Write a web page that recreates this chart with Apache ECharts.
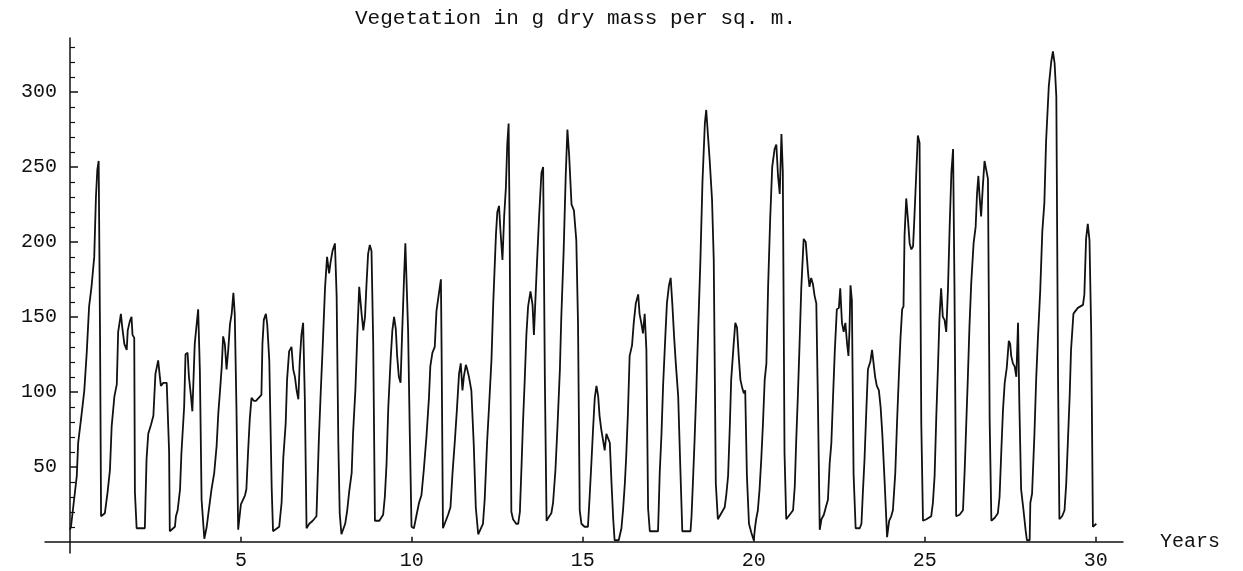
<!DOCTYPE html>
<html>
<head>
<meta charset="utf-8">
<script src="https://cdn.jsdelivr.net/npm/echarts@6/dist/echarts.min.js"></script>
<style>
  html, body { margin: 0; background: #fff; }
  #chart { width: 1243px; height: 571px; }
</style>
</head>
<body>
<div id="chart"></div>
<script>
// [year, grams dry mass per sq. m.], one row per season
const years0to5 = [
  [0.0, 8], [0.03, 10], [0.1, 24], [0.2, 44], [0.24, 66], [0.34, 85], [0.42, 101], [0.49, 126], [0.56, 157], [0.63, 170], [0.71, 190], [0.76, 230], [0.8, 248], [0.84, 254], [0.88, 137], [0.91, 17],
  [1.02, 19], [1.1, 33], [1.17, 48], [1.22, 77], [1.3, 97], [1.37, 105], [1.41, 140], [1.49, 152], [1.53, 143], [1.59, 132], [1.66, 128], [1.69, 141], [1.75, 147], [1.8, 150], [1.83, 138], [1.88, 136], [1.9, 33], [1.95, 9],
  [2.19, 9], [2.21, 28], [2.24, 55], [2.29, 72], [2.37, 78], [2.44, 84], [2.5, 112], [2.58, 121], [2.63, 110], [2.66, 104], [2.73, 106], [2.83, 106], [2.9, 60], [2.92, 7],
  [3.07, 10], [3.1, 17], [3.15, 21], [3.22, 35], [3.26, 59], [3.34, 90], [3.38, 125], [3.44, 126], [3.48, 110], [3.54, 97], [3.58, 87], [3.61, 106], [3.65, 132], [3.71, 146], [3.75, 155], [3.8, 114], [3.85, 28], [3.93, 2],
  [4.0, 10], [4.06, 21], [4.14, 35], [4.22, 46], [4.29, 64], [4.34, 86], [4.39, 101], [4.44, 117], [4.48, 137], [4.53, 132], [4.58, 115], [4.63, 128], [4.68, 145], [4.73, 152], [4.78, 166], [4.82, 152], [4.87, 89], [4.92, 8]
];
const years5to10 = [
  [4.97, 9], [5.0, 25], [5.06, 28], [5.12, 31], [5.16, 35], [5.21, 60], [5.26, 82], [5.31, 96], [5.38, 94], [5.44, 94], [5.52, 96], [5.6, 98], [5.63, 132], [5.67, 148], [5.73, 152], [5.77, 145], [5.83, 121], [5.9, 36], [5.94, 7],
  [6.12, 10], [6.19, 26], [6.24, 56], [6.31, 79], [6.35, 108], [6.41, 127], [6.48, 130], [6.53, 115], [6.58, 110], [6.63, 101], [6.68, 95], [6.72, 120], [6.77, 138], [6.82, 146], [6.87, 95], [6.92, 9],
  [7.0, 12], [7.1, 14], [7.21, 17], [7.24, 39], [7.28, 68], [7.33, 97], [7.39, 129], [7.46, 169], [7.52, 190], [7.58, 179], [7.62, 186], [7.68, 194], [7.75, 199], [7.8, 164], [7.85, 65], [7.89, 19], [7.94, 5],
  [8.05, 12], [8.11, 21], [8.17, 34], [8.24, 46], [8.28, 72], [8.35, 102], [8.4, 135], [8.46, 170], [8.53, 152], [8.58, 141], [8.63, 150], [8.67, 170], [8.72, 192], [8.77, 198], [8.82, 194], [8.87, 132], [8.92, 14],
  [9.05, 14], [9.16, 18], [9.21, 30], [9.26, 52], [9.31, 89], [9.38, 122], [9.43, 141], [9.48, 150], [9.53, 142], [9.57, 124], [9.62, 110], [9.67, 106], [9.71, 135], [9.77, 175], [9.81, 199], [9.86, 200], [9.89, 141], [9.94, 72], [9.99, 10]
];
const years10to15 = [
  [10.06, 9], [10.13, 17], [10.21, 26], [10.28, 31], [10.35, 48], [10.43, 71], [10.5, 96], [10.54, 117], [10.6, 126], [10.67, 130], [10.72, 154], [10.8, 167], [10.85, 175], [10.87, 127], [10.91, 9],
  [11.01, 15], [11.06, 18], [11.13, 23], [11.19, 46], [11.26, 68], [11.32, 89], [11.38, 112], [11.43, 119], [11.48, 101], [11.52, 110], [11.58, 118], [11.62, 115], [11.67, 110], [11.74, 101], [11.81, 65], [11.87, 23], [11.94, 5],
  [12.08, 12], [12.13, 28], [12.2, 66], [12.26, 91], [12.33, 122], [12.38, 159], [12.46, 205], [12.5, 220], [12.55, 224], [12.59, 208], [12.65, 188], [12.7, 217], [12.75, 236], [12.79, 265], [12.83, 279], [12.86, 211], [12.91, 20], [12.96, 15],
  [13.05, 12], [13.11, 12], [13.16, 20], [13.21, 52], [13.25, 79], [13.3, 107], [13.35, 138], [13.4, 157], [13.47, 167], [13.53, 158], [13.57, 138], [13.62, 137], [13.66, 186], [13.72, 216], [13.79, 246], [13.84, 250], [13.89, 109], [13.94, 14],
  [14.02, 17], [14.08, 19], [14.13, 26], [14.2, 48], [14.26, 77], [14.33, 115], [14.37, 149], [14.44, 194], [14.5, 244], [14.55, 275], [14.6, 258], [14.67, 225], [14.74, 221], [14.81, 201], [14.86, 146], [14.91, 21], [14.96, 12]
];
const years15to20 = [
  [15.05, 10], [15.15, 10], [15.2, 30], [15.25, 52], [15.3, 75], [15.35, 96], [15.4, 104], [15.45, 97], [15.49, 84], [15.54, 75], [15.59, 68], [15.64, 61], [15.69, 72], [15.74, 69], [15.79, 66], [15.84, 39], [15.89, 15], [15.93, 1],
  [16.05, 1], [16.13, 9], [16.18, 22], [16.23, 39], [16.27, 57], [16.32, 86], [16.37, 124], [16.44, 131], [16.49, 146], [16.55, 159], [16.62, 165], [16.66, 152], [16.71, 146], [16.76, 139], [16.81, 152], [16.86, 128], [16.91, 22], [16.96, 7],
  [17.2, 7], [17.22, 22], [17.25, 46], [17.3, 71], [17.35, 105], [17.42, 140], [17.46, 159], [17.52, 171], [17.57, 176], [17.62, 158], [17.67, 137], [17.72, 119], [17.79, 97], [17.85, 51], [17.91, 7],
  [18.15, 7], [18.18, 17], [18.22, 39], [18.27, 68], [18.32, 101], [18.37, 138], [18.44, 188], [18.5, 240], [18.57, 279], [18.61, 288], [18.66, 289], [18.71, 255], [18.78, 228], [18.83, 188], [18.89, 39], [18.95, 15],
  [19.05, 19], [19.15, 23], [19.2, 32], [19.25, 44], [19.3, 77], [19.34, 108], [19.41, 131], [19.46, 146], [19.51, 143], [19.56, 124], [19.61, 108], [19.67, 102], [19.71, 99], [19.75, 101], [19.8, 44], [19.86, 12], [19.93, 6], [20.0, 1]
];
const years20to25 = [
  [20.04, 10], [20.07, 15], [20.12, 21], [20.17, 35], [20.22, 55], [20.27, 79], [20.32, 108], [20.37, 119], [20.42, 170], [20.48, 215], [20.54, 250], [20.61, 262], [20.66, 265], [20.71, 244], [20.76, 232], [20.81, 272], [20.85, 247], [20.9, 59], [20.95, 15],
  [21.05, 18], [21.15, 21], [21.2, 37], [21.24, 66], [21.29, 97], [21.34, 132], [21.39, 169], [21.46, 202], [21.52, 200], [21.59, 179], [21.63, 170], [21.68, 176], [21.73, 172], [21.78, 164], [21.83, 159], [21.88, 88], [21.93, 8],
  [21.98, 15], [22.05, 18], [22.12, 24], [22.17, 28], [22.22, 52], [22.27, 66], [22.32, 97], [22.37, 127], [22.43, 155], [22.49, 156], [22.53, 169], [22.58, 146], [22.63, 140], [22.68, 146], [22.73, 132], [22.77, 124], [22.8, 141], [22.83, 171], [22.87, 161], [22.92, 45], [22.98, 9],
  [23.1, 9], [23.15, 12], [23.19, 32], [23.24, 55], [23.29, 86], [23.34, 115], [23.41, 120], [23.46, 128], [23.51, 118], [23.55, 110], [23.6, 104], [23.66, 101], [23.71, 90], [23.76, 72], [23.83, 39], [23.9, 3],
  [23.96, 14], [24.02, 17], [24.07, 21], [24.14, 46], [24.19, 79], [24.24, 108], [24.29, 135], [24.34, 155], [24.38, 157], [24.41, 204], [24.46, 229], [24.51, 215], [24.56, 199], [24.61, 195], [24.66, 197], [24.7, 217], [24.75, 244], [24.8, 271], [24.85, 266], [24.9, 79], [24.95, 14]
];
const years25to30 = [
  [25.05, 15], [25.19, 17], [25.24, 26], [25.29, 44], [25.34, 84], [25.39, 118], [25.43, 148], [25.48, 169], [25.53, 150], [25.58, 148], [25.63, 140], [25.68, 168], [25.73, 210], [25.78, 246], [25.83, 262], [25.87, 172], [25.92, 17],
  [26.02, 18], [26.12, 21], [26.17, 48], [26.21, 75], [26.26, 108], [26.31, 144], [26.36, 172], [26.43, 199], [26.49, 210], [26.53, 232], [26.57, 244], [26.6, 232], [26.65, 217], [26.7, 237], [26.75, 254], [26.8, 248], [26.85, 242], [26.9, 81], [26.95, 14],
  [27.05, 16], [27.14, 19], [27.19, 30], [27.24, 60], [27.29, 88], [27.34, 106], [27.4, 116], [27.46, 134], [27.5, 132], [27.53, 124], [27.58, 119], [27.63, 117], [27.68, 110], [27.73, 146], [27.77, 90], [27.82, 35], [27.89, 21], [27.95, 8], [27.99, 1],
  [28.07, 1], [28.09, 26], [28.14, 32], [28.21, 72], [28.26, 108], [28.31, 135], [28.38, 168], [28.44, 207], [28.5, 226], [28.55, 267], [28.63, 304], [28.7, 320], [28.75, 327], [28.8, 319], [28.85, 297], [28.9, 109], [28.94, 15],
  [29.02, 17], [29.09, 21], [29.14, 39], [29.19, 68], [29.24, 97], [29.28, 128], [29.35, 152], [29.41, 154], [29.48, 156], [29.63, 158], [29.67, 165], [29.72, 202], [29.77, 212], [29.82, 201], [29.87, 140], [29.92, 10], [30.02, 12]
];

const xTickYears = [5, 10, 15, 20, 25, 30];
const yMajorTicks = [50, 100, 150, 200, 250, 300];
const yMinorTicks = [10, 20, 30, 40, 60, 70, 80, 90, 110, 120, 130, 140, 160, 170, 180, 190,
  210, 220, 230, 240, 260, 270, 280, 290, 310, 320, 330];

const vegetation = [].concat(years0to5, years5to10, years10to15, years15to20, years20to25, years25to30);

const ink = "#111";
const mono = "Liberation Mono";

const chart = echarts.init(document.getElementById("chart"));

// axes cross at (0, 0), which sits inside the grid: shift them with offset
// (x = 0 is 25px right of the grid's left edge, y = 0 is 11px above its bottom)
chart.setOption({
  animation: false,
  backgroundColor: "#fff",
  title: {
    text: "Vegetation in g dry mass per sq. m.",
    left: 350,
    top: 3,
    textStyle: { fontFamily: mono, fontSize: 21, fontWeight: "normal", color: ink },
  },
  grid: {
    left: 45,
    right: 120,
    top: 38,
    bottom: 18,
    containLabel: false,
    outerBoundsMode: "none",
  },
  xAxis: {
    type: "value",
    min: -0.73,
    max: 30.8,
    position: "bottom",
    offset: -11.25,
    name: "Years",
    nameLocation: "end",
    nameGap: 37,
    nameTextStyle: { fontFamily: mono, fontSize: 20, color: ink },
    axisLine: { onZero: false, lineStyle: { color: ink, width: 1.5 } },
    axisTick: { inside: true, length: 5, customValues: xTickYears, lineStyle: { color: ink, width: 1.5 } },
    axisLabel: { customValues: xTickYears, fontFamily: mono, fontSize: 20, color: ink, margin: 9 },
    splitLine: { show: false },
  },
  yAxis: [
    {
      type: "value",
      min: -7.5,
      max: 336,
      position: "left",
      offset: -25,
      axisLine: { onZero: false, lineStyle: { color: ink, width: 1.5 } },
      axisTick: { inside: true, length: 8, customValues: yMajorTicks, lineStyle: { color: ink, width: 1.5 } },
      axisLabel: { customValues: yMajorTicks, fontFamily: mono, fontSize: 20, color: ink, margin: 13 },
      splitLine: { show: false },
    },
    {
      // minor ticks only, on the same vertical line as the main axis
      type: "value",
      min: -7.5,
      max: 336,
      position: "left",
      offset: -25,
      axisLine: { show: false, onZero: false },
      axisTick: { inside: true, length: 5, customValues: yMinorTicks, lineStyle: { color: ink, width: 1.2 } },
      axisLabel: { show: false },
      splitLine: { show: false },
    },
  ],
  series: [
    {
      name: "Vegetation",
      type: "line",
      data: vegetation,
      showSymbol: false,
      lineStyle: { color: ink, width: 1.8 },
    },
  ],
});
</script>
</body>
</html>
